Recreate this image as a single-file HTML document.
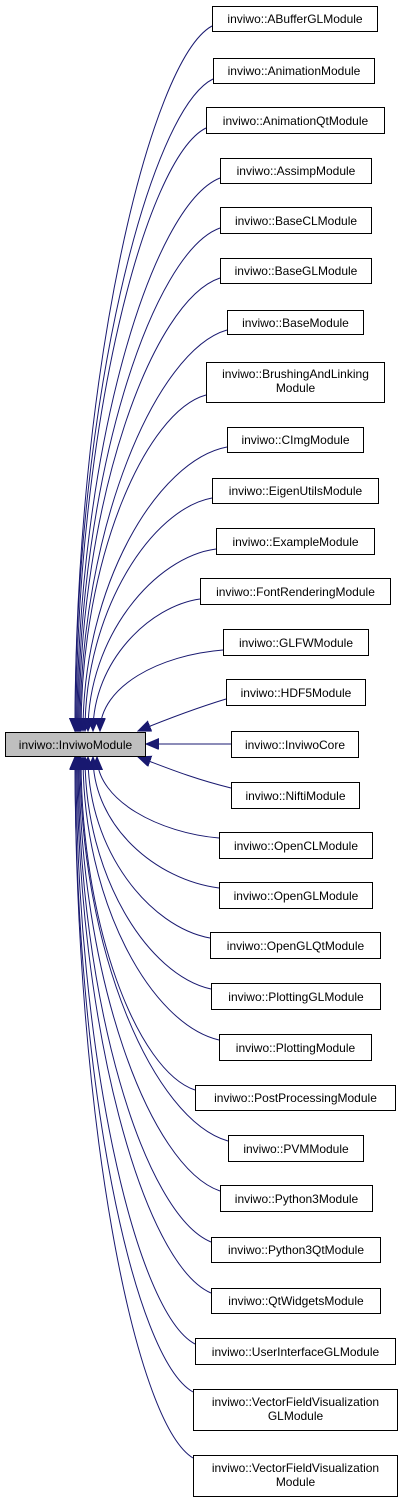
<!DOCTYPE html>
<html><head><meta charset="utf-8"><style>
html,body{margin:0;padding:0;background:#fff;width:403px;height:1502px;overflow:hidden}
svg{display:block}
text{font-family:"Liberation Sans",sans-serif;font-size:12px;fill:#000}
rect{fill:#fff;stroke:#000;stroke-width:1}
path{fill:none;stroke:#191970;stroke-width:1}
</style></head><body>
<svg width="403" height="1502" viewBox="0 0 403 1502" xmlns="http://www.w3.org/2000/svg">
<defs>
<marker id="a" markerUnits="userSpaceOnUse" markerWidth="14" markerHeight="12" refX="13" refY="5.5" orient="auto">
<path d="M0,0 L13,5.5 L0,11 Z" style="fill:#191970;stroke:#191970"/>
</marker>
</defs>
<g marker-end="url(#a)">
<path d="M212,26 C150,60 75,374 75,731"/>
<path d="M213,79 C150,110 75,401 75,731"/>
<path d="M206,128 C146,158 76,425 76,731"/>
<path d="M220,178 C152,205 77,450 77,731"/>
<path d="M220,228 C153,252 78,475 78,731"/>
<path d="M220,278 C153,300 79,500 79,731"/>
<path d="M227,330 C157,350 80,526 80,731"/>
<path d="M206,395 C147,411 81,556 81,731"/>
<path d="M227,447 C158,460 83,585 83,731"/>
<path d="M212,498 C152,509 85,610 85,731"/>
<path d="M216,549 C155,557 88,636 88,731"/>
<path d="M200,599 C150,606 93,661 93,731"/>
<path d="M223,650 C160,655 100,686 100,731"/>
<path d="M226,699 C190,710 160,722 138,731"/>
<path d="M231,744 L146,744"/>
<path d="M231,788 C190,778 160,765 138,757"/>
<path d="M219,838 C160,833 97,801 97,757"/>
<path d="M219,888 C156,880 93,826 93,757"/>
<path d="M210,938 C150,927 88,851 88,757"/>
<path d="M211,989 C148,975 85,876 85,757"/>
<path d="M219,1040 C151,1024 83,902 83,757"/>
<path d="M195,1090 C138,1071 81,927 81,757"/>
<path d="M228,1141 C154,1120 80,952 80,757"/>
<path d="M220,1191 C150,1167 79,977 79,757"/>
<path d="M211,1242 C145,1215 78,1003 78,757"/>
<path d="M211,1293 C144,1264 77,1028 77,757"/>
<path d="M195,1344 C136,1313 76,1054 76,757"/>
<path d="M193,1392 C134,1359 75,1084 75,757"/>
<path d="M193,1458 C134,1422 75,1116 75,757"/>
</g>
<rect x="5.5" y="732.5" width="140" height="24" style="fill:#bfbfbf"/>
<text x="75.5" y="749" text-anchor="middle">inviwo::InviwoModule</text>
<g text-anchor="middle">
<rect x="212.5" y="6.5" width="165" height="25"/><text x="295" y="23">inviwo::ABufferGLModule</text>
<rect x="213.5" y="58.5" width="161" height="25"/><text x="294" y="75">inviwo::AnimationModule</text>
<rect x="206.5" y="107.5" width="178" height="26"/><text x="295.5" y="125">inviwo::AnimationQtModule</text>
<rect x="220.5" y="158.5" width="151" height="25"/><text x="296" y="175">inviwo::AssimpModule</text>
<rect x="220.5" y="207.5" width="151" height="26"/><text x="296" y="225">inviwo::BaseCLModule</text>
<rect x="220.5" y="258.5" width="151" height="25"/><text x="296" y="275">inviwo::BaseGLModule</text>
<rect x="227.5" y="310.5" width="136" height="24"/><text x="295.5" y="327">inviwo::BaseModule</text>
<rect x="206.5" y="362.5" width="178" height="40"/><text x="295.5" y="378">inviwo::BrushingAndLinking</text><text x="295.5" y="392">Module</text>
<rect x="227.5" y="427.5" width="136" height="25"/><text x="295.5" y="444">inviwo::CImgModule</text>
<rect x="212.5" y="478.5" width="166" height="25"/><text x="295.5" y="495">inviwo::EigenUtilsModule</text>
<rect x="216.5" y="528.5" width="158" height="26"/><text x="295.5" y="546">inviwo::ExampleModule</text>
<rect x="200.5" y="578.5" width="190" height="26"/><text x="295.5" y="596">inviwo::FontRenderingModule</text>
<rect x="223.5" y="629.5" width="145" height="26"/><text x="296" y="647">inviwo::GLFWModule</text>
<rect x="226.5" y="679.5" width="139" height="26"/><text x="296" y="697">inviwo::HDF5Module</text>
<rect x="231.5" y="731.5" width="127" height="26"/><text x="295" y="749">inviwo::InviwoCore</text>
<rect x="231.5" y="782.5" width="128" height="26"/><text x="295.5" y="800">inviwo::NiftiModule</text>
<rect x="219.5" y="832.5" width="153" height="26"/><text x="296" y="850">inviwo::OpenCLModule</text>
<rect x="219.5" y="882.5" width="153" height="26"/><text x="296" y="900">inviwo::OpenGLModule</text>
<rect x="210.5" y="932.5" width="170" height="26"/><text x="295.5" y="950">inviwo::OpenGLQtModule</text>
<rect x="211.5" y="983.5" width="169" height="26"/><text x="296" y="1001">inviwo::PlottingGLModule</text>
<rect x="219.5" y="1034.5" width="152" height="26"/><text x="295.5" y="1052">inviwo::PlottingModule</text>
<rect x="195.5" y="1085.5" width="200" height="25"/><text x="295.5" y="1102">inviwo::PostProcessingModule</text>
<rect x="228.5" y="1135.5" width="135" height="26"/><text x="296" y="1153">inviwo::PVMModule</text>
<rect x="220.5" y="1185.5" width="152" height="26"/><text x="296.5" y="1203">inviwo::Python3Module</text>
<rect x="211.5" y="1237.5" width="169" height="25"/><text x="296" y="1254">inviwo::Python3QtModule</text>
<rect x="211.5" y="1288.5" width="169" height="25"/><text x="296" y="1305">inviwo::QtWidgetsModule</text>
<rect x="195.5" y="1338.5" width="200" height="26"/><text x="295.5" y="1356">inviwo::UserInterfaceGLModule</text>
<rect x="193.5" y="1389.5" width="204" height="41"/><text x="295.5" y="1406">inviwo::VectorFieldVisualization</text><text x="295.5" y="1420">GLModule</text>
<rect x="193.5" y="1455.5" width="204" height="41"/><text x="295.5" y="1472">inviwo::VectorFieldVisualization</text><text x="295.5" y="1486">Module</text>
</g>
</svg>
</body></html>
